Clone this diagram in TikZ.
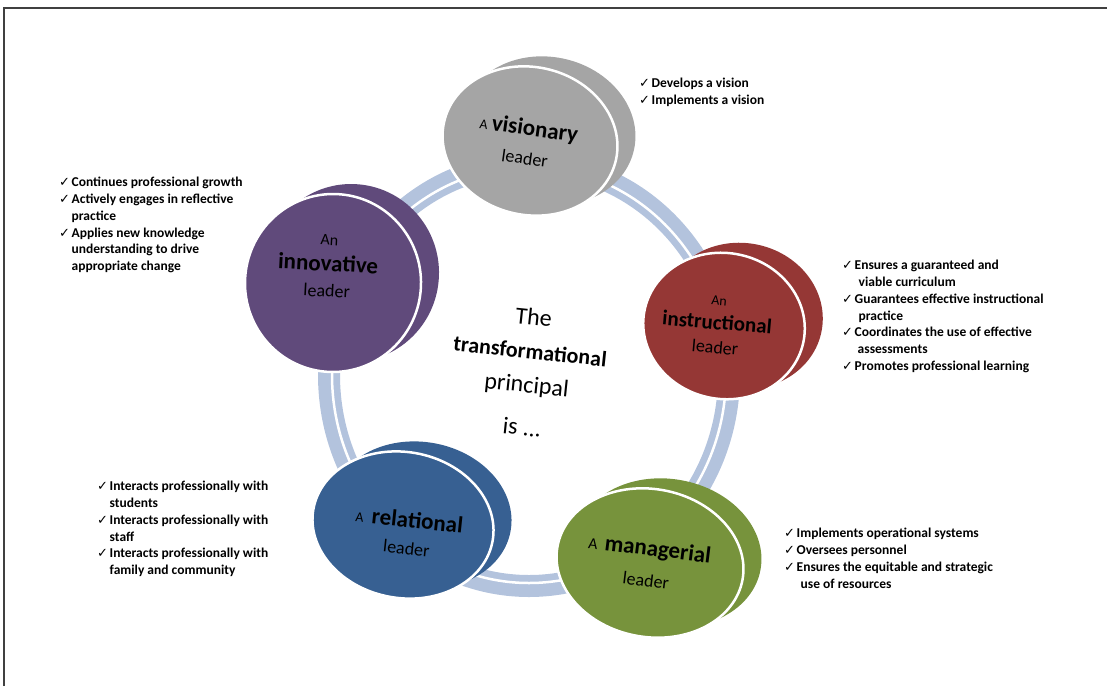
\documentclass[tikz,border=0pt]{standalone}
\usepackage{fontspec}
\setmainfont{Carlito}
\newfontfamily\tickfont{DejaVu Sans}
\usetikzlibrary{shapes.geometric}

\definecolor{visiongray}{HTML}{A5A5A5}
\definecolor{instrred}{HTML}{953735}
\definecolor{managgreen}{HTML}{77933C}
\definecolor{relatblue}{HTML}{376092}
\definecolor{innovpurple}{HTML}{604A7B}
\definecolor{ringblue}{HTML}{B3C3DD}

% check mark in front of each point, and the indent of a wrapped line
\newcommand{\tick}{\makebox[12.5pt][l]{\tickfont\fontsize{13}{13}\selectfont ✓}}
\newcommand{\wrap}{\hspace*{12.5pt}}

\begin{document}
\begin{tikzpicture}[x=1pt, y=-1pt,
		disc/.style={shape=ellipse, draw=white, line width=2.5pt, inner sep=0pt},
		discback/.style={shape=ellipse, inner sep=0pt, xshift=18pt, yshift=10pt},
		ring/.style={draw=ringblue, line width=22pt},
		ringgap/.style={draw=white, line width=2.5pt},
		points/.style={anchor=north west, align=left, inner sep=0pt, font=\bfseries\fontsize{13.5}{16.8}\selectfont}]
		\useasboundingbox (0,0) rectangle (1107,686);
		\draw[black!75, line width=1.2pt] (4,686) -- (4,8) -- (1107,8);

		% the ring behind the five leaders
		\draw[ring] (529,375) ellipse [x radius=200, y radius=211];
		\draw[ringgap] (529,375) ellipse [x radius=197, y radius=208];

		% the five leaders
		\node (visionback) at (530,141) [discback, fill=visiongray, rotate=-12, minimum width=176pt, minimum height=148pt] {};
		\node (visionary) at (530,141) [disc, fill=visiongray, rotate=-12, minimum width=176pt, minimum height=148pt] {};
		\node (instrback) at (724,326) [discback, fill=instrred, rotate=-10, minimum width=162pt, minimum height=146pt] {};
		\node (instructional) at (724,326) [disc, fill=instrred, rotate=-10, minimum width=162pt, minimum height=146pt] {};
		\node (managback) at (650,563) [discback, fill=managgreen, rotate=-10, minimum width=188pt, minimum height=148pt] {};
		\node (managerial) at (650,563) [disc, fill=managgreen, rotate=-10, minimum width=188pt, minimum height=148pt] {};
		\node (relatback) at (403,525) [discback, fill=relatblue, rotate=-10, minimum width=182pt, minimum height=146pt] {};
		\node (relational) at (403,525) [disc, fill=relatblue, rotate=-10, minimum width=182pt, minimum height=146pt] {};
		\node (innovback) at (333,283) [discback, fill=innovpurple, rotate=-5, minimum width=176pt, minimum height=178pt] {};
		\node (innovative) at (333,283) [disc, fill=innovpurple, rotate=-5, minimum width=176pt, minimum height=178pt] {};

		% their names
		\node (visiontext) at (527,142) [rotate=-8, align=center, font=\fontsize{18}{29}\selectfont] {{\fontsize{14}{14}\selectfont A} {\bfseries\fontsize{23}{23}\selectfont visionary}\\leader};
		\node (instrtext) at (717,325) [rotate=-5, align=center, font=\fontsize{18}{24}\selectfont] {{\fontsize{14}{14}\selectfont An}\\{\bfseries\fontsize{21}{21}\selectfont instructional}\\leader};
		\node (managtext) at (648,563) [rotate=-7, align=center, font=\fontsize{18}{31}\selectfont] {{\fontsize{16}{16}\selectfont A}\hspace{3pt} {\bfseries\fontsize{23}{23}\selectfont managerial}\\leader};
		\node (relattext) at (408,533) [rotate=-6, align=center, font=\fontsize{18}{27}\selectfont] {{\fontsize{14}{14}\selectfont A} \ {\bfseries\fontsize{23}{23}\selectfont relational}\\leader};
		\node (innovtext) at (328,266) [rotate=-3, align=center, font=\fontsize{18}{26}\selectfont] {{\fontsize{16}{16}\selectfont An}\\{\bfseries\fontsize{23}{23}\selectfont innovative}\\leader};

		\node (principal) at (528,372) [rotate=-6, align=center, font=\fontsize{24}{34}\selectfont] {The\\{\bfseries\fontsize{22}{22}\selectfont transformational}\\principal\\[9pt]is ...};

		% what each leader does
		\node (visionpoints) at (639,78) [points] {\tick Develops a vision\\\tick Implements a vision};
		\node (innovpoints) at (59,177) [points] {\tick Continues professional growth\\\tick Actively engages in reflective\\\wrap practice\\\tick Applies new knowledge\\\wrap understanding to drive\\\wrap appropriate change};
		\node (instrpoints) at (842,260) [points] {\tick Ensures a guaranteed and\\\wrap\hspace*{4pt}viable curriculum\\\tick Guarantees effective instructional\\\wrap\hspace*{4pt}practice\\\tick Coordinates the use of effective\\\wrap\hspace*{3pt}assessments\\\tick Promotes professional learning};
		\node (relatpoints) at (97,481) [points] {\tick Interacts professionally with\\\wrap students\\\tick Interacts professionally with\\\wrap staff\\\tick Interacts professionally with\\\wrap family and community};
		\node (managpoints) at (784,528) [points] {\tick Implements operational systems\\\tick Oversees personnel\\\tick Ensures the equitable and strategic\\\wrap\hspace*{4pt}use of resources};
\end{tikzpicture}
\end{document}
